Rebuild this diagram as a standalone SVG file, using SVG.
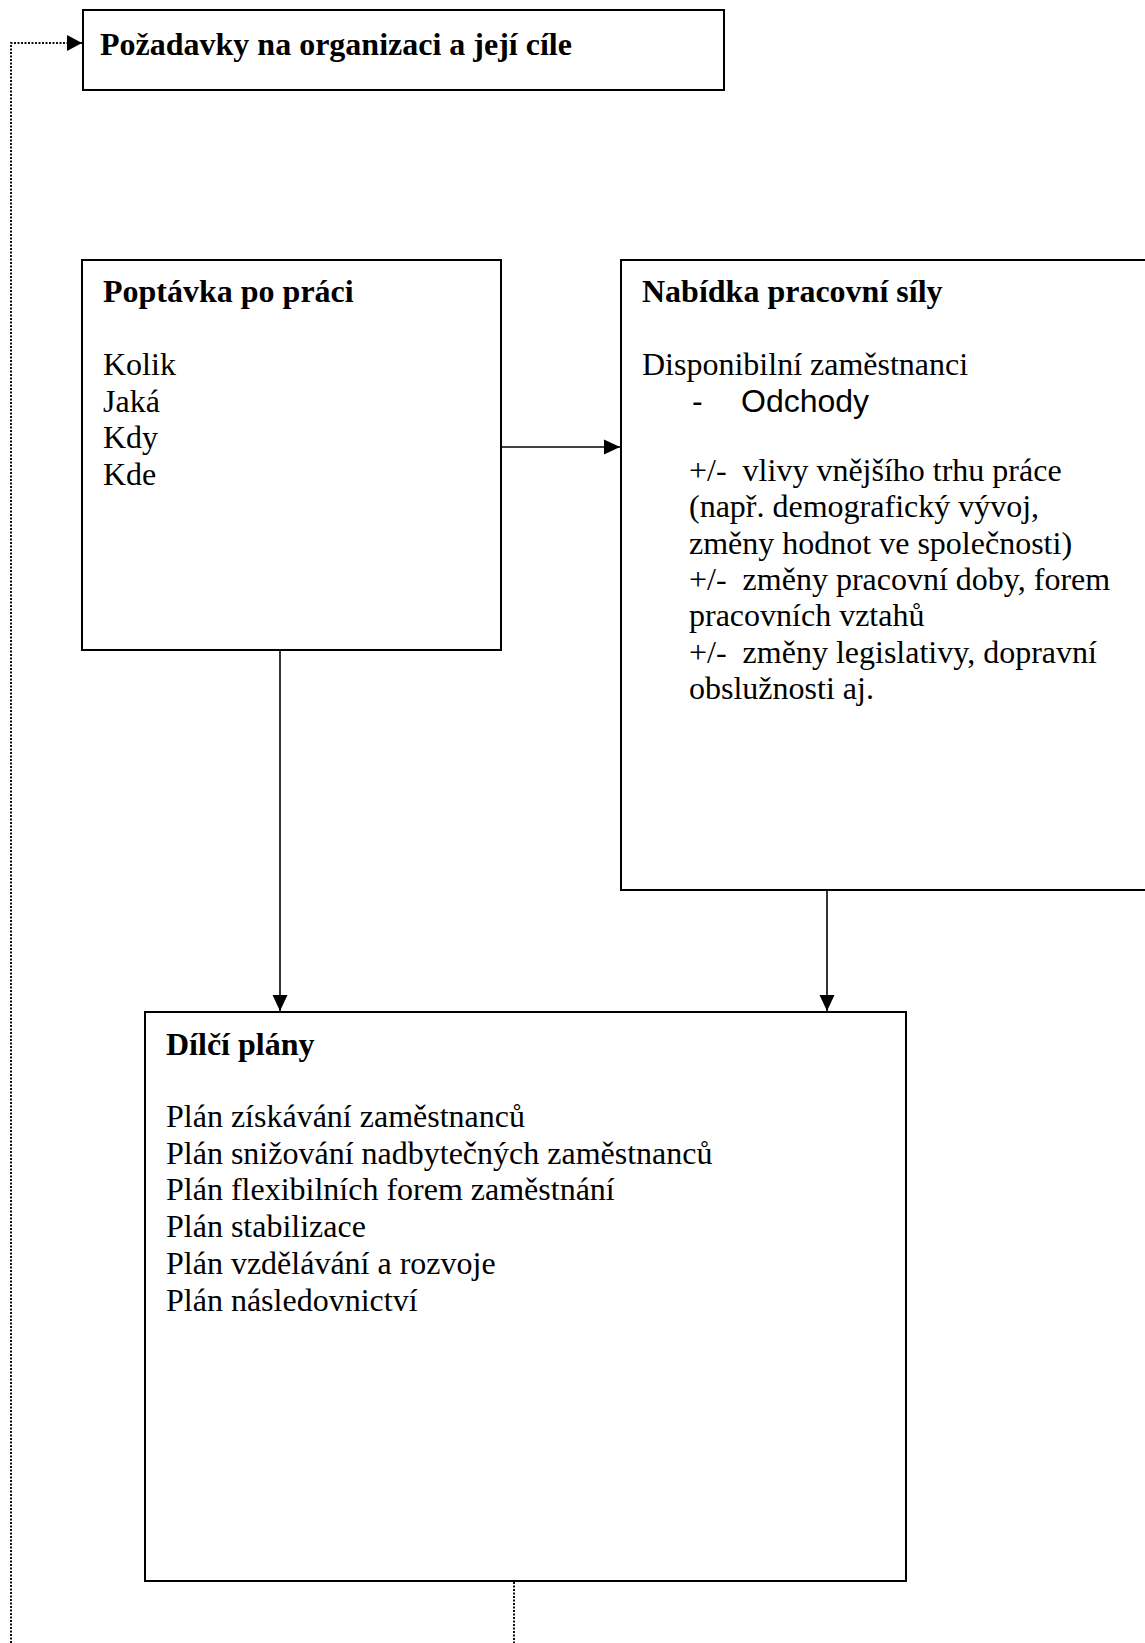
<svg xmlns="http://www.w3.org/2000/svg" width="1145" height="1643" viewBox="0 0 1145 1643">
  <style>
    .box { fill: #ffffff; stroke: #000000; stroke-width: 2; }
    .t { font-family: "Liberation Serif", "Times New Roman", serif; font-size: 32px; fill: #000000; white-space: pre; }
    .b { font-weight: bold; }
    .s { font-family: "Liberation Sans", Arial, sans-serif; font-size: 32px; fill: #000000; }
    .link { fill: none; stroke: #000000; stroke-width: 1.6; }
    .dot { fill: none; stroke: #111111; stroke-width: 2; stroke-dasharray: 2 1.5; }
  </style>
  <defs>
    <marker id="arrow" markerUnits="userSpaceOnUse" markerWidth="16" markerHeight="16" refX="16" refY="8" orient="auto">
      <path d="M0,0.5 L16,8 L0,15.5 Z" fill="#000000"/>
    </marker>
    <marker id="arrowSmall" markerUnits="userSpaceOnUse" markerWidth="15" markerHeight="18" refX="15" refY="9" orient="auto">
      <path d="M0,1 L15,9 L0,17 Z" fill="#000000"/>
    </marker>
  </defs>

  <rect width="1145" height="1643" fill="#ffffff"/>

  <!-- connectors -->
  <g id="connectors">
    <line class="link" x1="501" y1="447" x2="620" y2="447" marker-end="url(#arrow)"/>
    <line class="link" x1="280" y1="651" x2="280" y2="1011" marker-end="url(#arrow)"/>
    <line class="link" x1="827" y1="891" x2="827" y2="1011" marker-end="url(#arrow)"/>
    <polyline class="dot" points="514,1582 514,1643"/>
    <polyline class="dot" points="11,1643 11,43 82,43" marker-end="url(#arrowSmall)"/>
  </g>

  <!-- goals box -->
  <g id="node-pozadavky">
    <rect class="box" x="83" y="10" width="641" height="80"/>
    <text class="t b" x="100" y="55">Požadavky na organizaci a její cíle</text>
  </g>

  <!-- labour demand -->
  <g id="node-poptavka">
    <rect class="box" x="82" y="260" width="419" height="390"/>
    <text class="t b" x="103" y="302">Poptávka po práci</text>
    <text class="t" x="103" y="375">Kolik</text>
    <text class="t" x="103" y="411.7">Jaká</text>
    <text class="t" x="103" y="448.4">Kdy</text>
    <text class="t" x="103" y="485.1">Kde</text>
  </g>

  <!-- labour supply (box runs past the right edge) -->
  <g id="node-nabidka">
    <path class="box" d="M1150,260 L621,260 L621,890 L1150,890"/>
    <text class="t b" x="642" y="302">Nabídka pracovní síly</text>
    <text class="t" x="642" y="375">Disponibilní zaměstnanci</text>
    <text class="s" x="692" y="412">-</text>
    <text class="s" x="741" y="412">Odchody</text>
    <text class="t" x="689" y="481">+/-  vlivy vnějšího trhu práce</text>
    <text class="t" x="689" y="517.3">(např. demografický vývoj,</text>
    <text class="t" x="689" y="553.6">změny hodnot ve společnosti)</text>
    <text class="t" x="689" y="589.9">+/-  změny pracovní doby, forem</text>
    <text class="t" x="689" y="626.2">pracovních vztahů</text>
    <text class="t" x="689" y="662.5">+/-  změny legislativy, dopravní</text>
    <text class="t" x="689" y="698.8">obslužnosti aj.</text>
  </g>

  <!-- partial plans -->
  <g id="node-dilci-plany">
    <rect class="box" x="145" y="1012" width="761" height="569"/>
    <text class="t b" x="166" y="1055">Dílčí plány</text>
    <text class="t" x="166" y="1127">Plán získávání zaměstnanců</text>
    <text class="t" x="166" y="1163.7">Plán snižování nadbytečných zaměstnanců</text>
    <text class="t" x="166" y="1200.4">Plán flexibilních forem zaměstnání</text>
    <text class="t" x="166" y="1237.1">Plán stabilizace</text>
    <text class="t" x="166" y="1273.8">Plán vzdělávání a rozvoje</text>
    <text class="t" x="166" y="1310.5">Plán následovnictví</text>
  </g>
</svg>
